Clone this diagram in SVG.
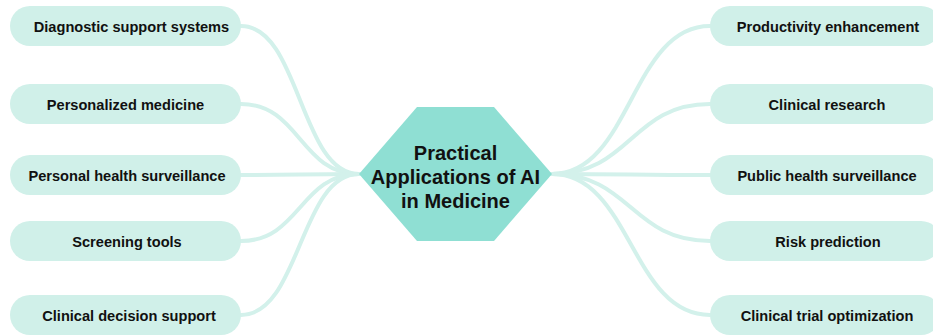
<svg xmlns="http://www.w3.org/2000/svg" width="933" height="335" viewBox="0 0 933 335">
  <style>
    .link { fill: none; stroke: #d3f1eb; stroke-width: 4; stroke-linecap: round; }
    .leaf rect { fill: #d0f0e9; }
    .leaf text { font-family: "Liberation Sans", Arial, sans-serif; font-size: 14.6px; font-weight: bold; fill: #111; text-anchor: middle; dominant-baseline: central; }
    .hub polygon { fill: #8fdfd3; }
    .hub text { font-family: "Liberation Sans", Arial, sans-serif; font-size: 20px; font-weight: bold; fill: #111; text-anchor: middle; dominant-baseline: central; }
  </style>
  <rect width="933" height="335" fill="#ffffff"/>

  <g id="connectors">
    <path class="link" d="M241,26 C300,26 300,174 359,174"/>
    <path class="link" d="M241,104 C300,104 300,174 359,174"/>
    <path class="link" d="M241,175 C300,175 300,174 359,174"/>
    <path class="link" d="M241,241 C300,241 300,174 359,174"/>
    <path class="link" d="M241,315 C300,315 300,174 359,174"/>
    <path class="link" d="M552,174 C631,174 631,26 710,26"/>
    <path class="link" d="M552,174 C631,174 631,104 710,104"/>
    <path class="link" d="M552,174 C631,174 631,175 710,175"/>
    <path class="link" d="M552,174 C631,174 631,241 710,241"/>
    <path class="link" d="M552,174 C631,174 631,315 710,315"/>
  </g>

  <g id="hub" class="hub">
    <polygon points="359,174 417,107 494,107 552,174 494,241 417,241"/>
    <text x="455.5" y="153">Practical</text>
    <text x="455.5" y="177">Applications of AI</text>
    <text x="455.5" y="201">in Medicine</text>
  </g>

  <g id="diagnostic-support" class="leaf">
    <rect x="10" y="6" width="231" height="40" rx="20"/>
    <text x="131.5" y="27">Diagnostic support systems</text>
  </g>
  <g id="personalized-medicine" class="leaf">
    <rect x="10" y="84" width="231" height="40" rx="20"/>
    <text x="125.5" y="105">Personalized medicine</text>
  </g>
  <g id="personal-health" class="leaf">
    <rect x="10" y="155" width="231" height="40" rx="20"/>
    <text x="127" y="176">Personal health surveillance</text>
  </g>
  <g id="screening-tools" class="leaf">
    <rect x="10" y="221" width="231" height="40" rx="20"/>
    <text x="127" y="242">Screening tools</text>
  </g>
  <g id="clinical-decision" class="leaf">
    <rect x="10" y="295" width="231" height="40" rx="20"/>
    <text x="129" y="316">Clinical decision support</text>
  </g>

  <g id="productivity" class="leaf">
    <rect x="710" y="6" width="231" height="40" rx="20"/>
    <text x="828" y="27">Productivity enhancement</text>
  </g>
  <g id="clinical-research" class="leaf">
    <rect x="710" y="84" width="231" height="40" rx="20"/>
    <text x="827" y="105">Clinical research</text>
  </g>
  <g id="public-health" class="leaf">
    <rect x="710" y="155" width="231" height="40" rx="20"/>
    <text x="827" y="176">Public health surveillance</text>
  </g>
  <g id="risk-prediction" class="leaf">
    <rect x="710" y="221" width="231" height="40" rx="20"/>
    <text x="828" y="242">Risk prediction</text>
  </g>
  <g id="clinical-trial" class="leaf">
    <rect x="710" y="295" width="231" height="40" rx="20"/>
    <text x="827" y="316">Clinical trial optimization</text>
  </g>
</svg>
